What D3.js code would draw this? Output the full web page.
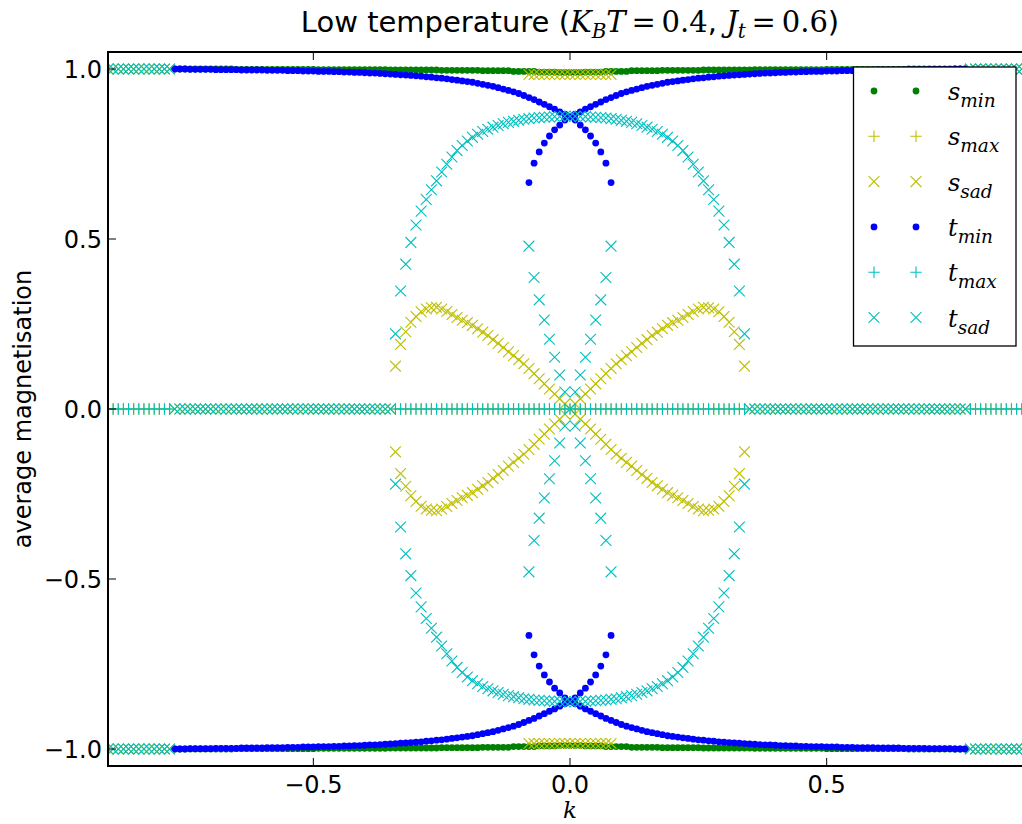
<!DOCTYPE html>
<html>
<head>
<meta charset="utf-8">
<script src="https://cdn.jsdelivr.net/npm/d3@7"></script>
<style>
  html, body { margin: 0; padding: 0; background: #fff; }
  svg { display: block; }
</style>
</head>
<body>
<svg id="chart" width="1022" height="824"></svg>
<script>
// ---------------- DATA (upper-left quadrant; figure is symmetric in k -> -k and m -> -m) ----------------
const K_STEP = 0.01;

// s_min (green dots): k = -0.77 ... 0.00
const sMinK0 = -0.77;
const sMinVals = [
  1.000,1.000,1.000,1.000,1.000,1.000,1.000,1.000,1.000,1.000,1.000,1.000,
  0.999,0.999,0.999,0.999,0.999,0.999,0.999,0.999,0.999,0.999,0.999,0.999,0.999,0.999,0.999,0.999,
  0.998,0.998,0.998,0.998,0.998,0.998,0.998,0.998,0.998,0.998,0.998,0.998,0.998,0.998,
  0.997,0.997,0.997,0.997,0.997,0.997,0.997,0.997,0.997,0.997,
  0.996,0.996,0.996,0.996,0.996,0.996,0.996,0.996,
  0.995,0.995,0.995,0.995,0.995,0.995,
  0.993,0.993,0.993,0.993,0.993,
  0.991,0.991,0.991,0.991,
  0.990,0.990,0.990
];

// t_min (blue dots), one branch: k = -0.77 ... 0.08
const tMinK0 = -0.77;
const tMinVals = [
  1.000,1.000,1.000,0.999,0.999,0.999,0.999,0.999,0.998,0.998,
  0.998,0.998,0.998,0.997,0.997,0.997,0.997,0.997,0.996,0.996,
  0.996,0.996,0.995,0.995,0.995,0.994,0.994,0.994,0.993,0.993,
  0.993,0.992,0.992,0.991,0.991,0.990,0.990,0.989,0.988,0.988,
  0.987,0.986,0.985,0.984,0.983,0.982,0.981,0.980,0.979,0.977,
  0.976,0.974,0.973,0.971,0.969,0.967,0.965,0.963,0.961,0.958,
  0.955,0.952,0.949,0.945,0.941,0.937,0.933,0.928,0.922,0.916,
  0.910,0.903,0.896,0.889,0.882,0.874,0.867,0.860,0.850,0.835,
  0.821,0.803,0.782,0.756,0.723,0.666
];

// s_sad near the top, k = -0.08 ... 0.00
const sSadTopK0 = -0.08;
const sSadTopVals = [0.984,0.984,0.984,0.984,0.984,0.984,0.984,0.984,0.984];

// saddles at |m| = 1 for |k| >= 0.78 (both s_sad and t_sad): k = -0.90 ... -0.78
const edgeSadK0 = -0.90;
const edgeSadVals = [1,1,1,1,1,1,1,1,1,1,1,1,1];

// saddles on m = 0 (s_sad and t_sad): k = -0.77 ... -0.35
const zeroSadK0 = -0.77;
const zeroSadVals = [
  0,0,0,0,0,0,0,0,0,0, 0,0,0,0,0,0,0,0,0,0,
  0,0,0,0,0,0,0,0,0,0, 0,0,0,0,0,0,0,0,0,0, 0,0,0
];

// maxima on m = 0 (s_max and t_max): k = -0.90 ... -0.78 and k = -0.34 ... 0.00
const outerMaxK0 = -0.90;
const outerMaxVals = [0,0,0,0,0,0,0,0,0,0,0,0,0];
const innerMaxK0 = -0.34;
const innerMaxVals = [
  0,0,0,0,0,0,0,0,0,0, 0,0,0,0,0,0,0,0,0,0,
  0,0,0,0,0,0,0,0,0,0, 0,0,0,0,0
];

// s_sad lobe: k = -0.34 ... 0.00
const sSadLobeK0 = -0.34;
const sSadLobeVals = [
  0.126,0.190,0.227,0.255,0.272,0.286,0.294,0.298,0.299,0.294,
  0.287,0.278,0.269,0.261,0.254,0.246,0.236,0.226,0.216,0.204,
  0.193,0.181,0.168,0.157,0.145,0.133,0.119,0.104,0.089,0.074,
  0.059,0.044,0.030,0.015,0.000
];

// t_sad outer arc: k = -0.34 ... 0.00
const tSadArcK0 = -0.34;
const tSadArcVals = [
  0.221,0.347,0.426,0.490,0.541,0.582,0.616,0.645,0.671,0.697,
  0.720,0.741,0.760,0.775,0.788,0.799,0.808,0.816,0.823,0.829,
  0.834,0.839,0.843,0.846,0.849,0.852,0.854,0.856,0.857,0.858,
  0.859,0.860,0.860,0.861,0.861
];

// t_sad inner branch: k = -0.08 ... 0.00
const tSadInnerK0 = -0.08;
const tSadInnerVals = [0.479,0.387,0.321,0.262,0.205,0.152,0.100,0.050,0.000];

// axis / text
const xTicks = [-0.5, 0.0, 0.5];
const yTicks = [-1.0, -0.5, 0.0, 0.5, 1.0];
const legendNames = [["s","min"],["s","max"],["s","sad"],["t","min"],["t","max"],["t","sad"]];

// ---------------- helpers ----------------
function branch(k0, vals) {
  return vals.map((v, i) => [+(k0 + i * K_STEP).toFixed(2), v]);
}
// reflect a quadrant branch into all four quadrants
function quad(pts) {
  const seen = new Set(), out = [];
  pts.forEach(([k, v]) => {
    [[k, v], [-k, v], [k, -v], [-k, -v]].forEach(([a, b]) => {
      const key = (a + 0).toFixed(3) + "," + (b + 0).toFixed(3);
      if (!seen.has(key)) { seen.add(key); out.push([a, b]); }
    });
  });
  return out;
}

const series = [
  { name: "s_min", type: "dot",  color: "#008000",
    pts: quad(branch(sMinK0, sMinVals)) },
  { name: "s_max", type: "plus", color: "#bfbf00",
    pts: quad(branch(outerMaxK0, outerMaxVals)).concat(quad(branch(innerMaxK0, innerMaxVals))) },
  { name: "s_sad", type: "x",    color: "#bfbf00",
    pts: quad(branch(edgeSadK0, edgeSadVals))
      .concat(quad(branch(zeroSadK0, zeroSadVals)))
      .concat(quad(branch(sSadTopK0, sSadTopVals)))
      .concat(quad(branch(sSadLobeK0, sSadLobeVals))) },
  { name: "t_min", type: "dot",  color: "#0000ff",
    pts: quad(branch(tMinK0, tMinVals)) },
  { name: "t_max", type: "plus", color: "#00bfbf",
    pts: quad(branch(outerMaxK0, outerMaxVals)).concat(quad(branch(innerMaxK0, innerMaxVals))) },
  { name: "t_sad", type: "x",    color: "#00bfbf",
    pts: quad(branch(edgeSadK0, edgeSadVals))
      .concat(quad(branch(zeroSadK0, zeroSadVals)))
      .concat(quad(branch(tSadArcK0, tSadArcVals)))
      .concat(quad(branch(tSadInnerK0, tSadInnerVals))) }
];

// ---------------- layout ----------------
const svg = d3.select("#chart");
const L = 108, T = 52, R = 1032, B = 766;
const x = d3.scaleLinear().domain([-0.9, 0.9]).range([L, R]);
const y = d3.scaleLinear().domain([-1.05, 1.05]).range([B, T]);

const SANS = "'DejaVu Sans', sans-serif";
const SERIF = "'DejaVu Serif', serif";

svg.append("defs").append("clipPath").attr("id", "clip")
  .append("rect").attr("x", L).attr("y", T).attr("width", R - L).attr("height", B - T);

const plusPath = "M-5.7,0H5.7M0,-5.7V5.7";
const xPath = "M-5.4,-5.4L5.4,5.4M-5.4,5.4L5.4,-5.4";

function drawMarkers(g, pts, type, color) {
  if (type === "dot") {
    g.selectAll(null).data(pts).join("circle")
      .attr("cx", d => x(d[0])).attr("cy", d => y(d[1]))
      .attr("r", 3.4).attr("fill", color);
  } else {
    g.selectAll(null).data(pts).join("path")
      .attr("d", type === "plus" ? plusPath : xPath)
      .attr("transform", d => `translate(${x(d[0])},${y(d[1])})`)
      .attr("fill", "none").attr("stroke", color).attr("stroke-width", 1.1);
  }
}

const plot = svg.append("g").attr("clip-path", "url(#clip)");
series.forEach(s => drawMarkers(plot.append("g"), s.pts, s.type, s.color));

// ---------------- axes ----------------
const ax = svg.append("g");
xTicks.forEach(t => {
  ax.append("line").attr("x1", x(t)).attr("x2", x(t)).attr("y1", B).attr("y2", B - 8)
    .attr("stroke", "#000").attr("stroke-width", 1);
  ax.append("line").attr("x1", x(t)).attr("x2", x(t)).attr("y1", T).attr("y2", T + 8)
    .attr("stroke", "#000").attr("stroke-width", 1);
  ax.append("text").attr("x", x(t)).attr("y", 793)
    .attr("text-anchor", "middle").attr("font-family", SANS).attr("font-size", 24)
    .text(d3.format(".1f")(t).replace("-", "\u2212"));
});
yTicks.forEach(t => {
  ax.append("line").attr("x1", L).attr("x2", L + 8).attr("y1", y(t)).attr("y2", y(t))
    .attr("stroke", "#000").attr("stroke-width", 1);
  ax.append("line").attr("x1", R).attr("x2", R - 8).attr("y1", y(t)).attr("y2", y(t))
    .attr("stroke", "#000").attr("stroke-width", 1);
  ax.append("text").attr("x", 102).attr("y", y(t) + 8.5)
    .attr("text-anchor", "end").attr("font-family", SANS).attr("font-size", 24)
    .text(d3.format(".1f")(t).replace("-", "\u2212"));
});
svg.append("rect").attr("x", L).attr("y", T).attr("width", R - L).attr("height", B - T)
  .attr("fill", "none").attr("stroke", "#000").attr("stroke-width", 2);

// axis labels
svg.append("text").attr("x", 570).attr("y", 818).attr("text-anchor", "middle")
  .attr("font-family", SERIF).attr("font-style", "italic").attr("font-size", 23).text("k");
svg.append("text").attr("transform", "translate(31,409) rotate(-90)").attr("text-anchor", "middle")
  .attr("font-family", SANS).attr("font-size", 24).text("average magnetisation");

// title
const title = svg.append("text").attr("x", 570).attr("y", 32).attr("text-anchor", "middle")
  .attr("font-size", 29);
function ts(txt, fam, italic, size, dy) {
  const t = title.append("tspan").attr("font-family", fam).text(txt);
  if (italic) t.attr("font-style", "italic");
  if (size) t.attr("font-size", size);
  if (dy) t.attr("dy", dy);
}
ts("Low temperature (", SANS);
ts("K", SERIF, true);
ts("B", SERIF, true, 20, 6);
ts("T", SERIF, true, null, -6);
ts("\u2009=\u20090.4", SERIF, false);
ts(", ", SANS);
ts("J", SERIF, true);
ts("t", SERIF, true, 20, 6);
ts("\u2009=\u20090.6", SERIF, false, null, -6);
ts(")", SANS);

// ---------------- legend ----------------
const lg = svg.append("g");
lg.append("rect").attr("x", 853.5).attr("y", 67).attr("width", 162.5).attr("height", 279)
  .attr("fill", "#fff").attr("stroke", "#000").attr("stroke-width", 1.3);
series.forEach((s, i) => {
  const cy = 91 + i * 45.3;
  const g = lg.append("g");
  [874, 916].forEach(cx => {
    if (s.type === "dot") {
      g.append("circle").attr("cx", cx).attr("cy", cy).attr("r", 3.4).attr("fill", s.color);
    } else {
      g.append("path").attr("d", s.type === "plus" ? plusPath : xPath)
        .attr("transform", `translate(${cx},${cy})`)
        .attr("fill", "none").attr("stroke", s.color).attr("stroke-width", 1.1);
    }
  });
  const t = g.append("text").attr("x", 948).attr("y", cy + 9)
    .attr("font-family", SERIF).attr("font-style", "italic").attr("font-size", 24);
  t.append("tspan").text(legendNames[i][0]);
  t.append("tspan").attr("font-size", 18.5).attr("dy", 7).text(legendNames[i][1]);
});
</script>
</body>
</html>
